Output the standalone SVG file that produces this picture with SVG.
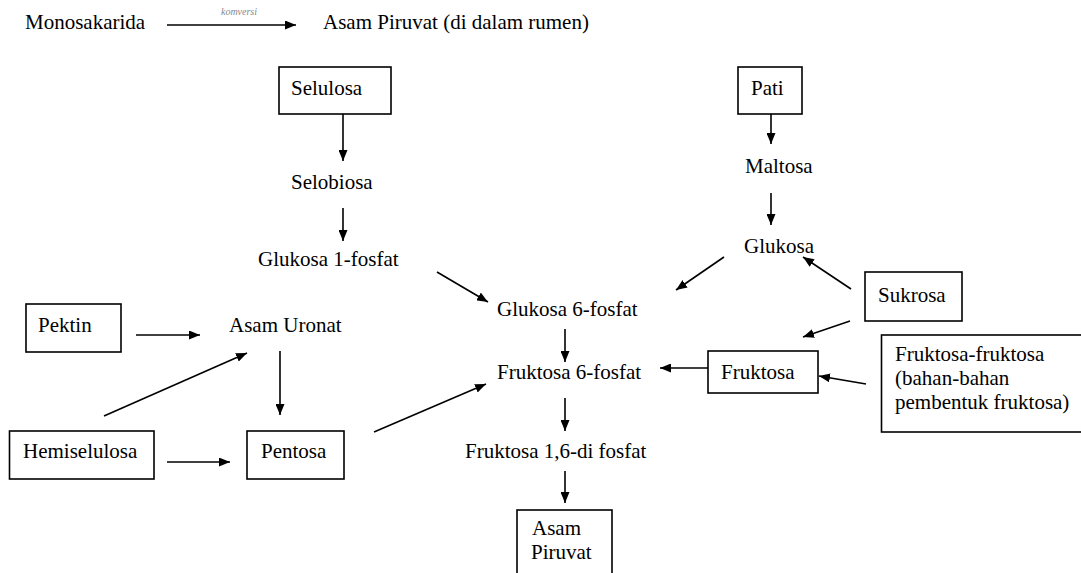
<svg xmlns="http://www.w3.org/2000/svg" width="1081" height="573" viewBox="0 0 1081 573" font-family="'Liberation Serif', 'DejaVu Serif', serif">
<style>
text{font-family:'Liberation Serif','Times New Roman',Times,'DejaVu Serif',serif;font-size:21px;fill:#000}
.box{fill:#fff;stroke:#000;stroke-width:1.6}
.c{stroke:#000;stroke-width:1.6;fill:none;marker-end:url(#ah)}
.lbl{font-size:10px;font-style:italic;fill:#888}
</style>
<defs>
<marker id="ah" markerUnits="userSpaceOnUse" markerWidth="11" markerHeight="9" refX="11" refY="4.5" orient="auto">
<path d="M0,0 L11,4.5 L0,9 z" fill="#000"/>
</marker>
</defs>
<rect width="1081" height="573" fill="#fff"/>

<g id="legend">
<text x="25" y="29">Monosakarida</text>
<text class="lbl" x="239" y="15" text-anchor="middle">komversi</text>
<text x="323" y="29">Asam Piruvat (di dalam rumen)</text>
</g>

<g id="selulosa"><rect class="box" x="279" y="67" width="112" height="47"/><text x="291" y="95">Selulosa</text></g>
<g id="selobiosa"><text x="291" y="189">Selobiosa</text></g>
<g id="glukosa1f"><text x="258" y="266">Glukosa 1-fosfat</text></g>
<g id="pati"><rect class="box" x="738" y="67" width="64" height="47"/><text x="751" y="95">Pati</text></g>
<g id="maltosa"><text x="745" y="173">Maltosa</text></g>
<g id="glukosa"><text x="744" y="253">Glukosa</text></g>
<g id="sukrosa"><rect class="box" x="865" y="272" width="97" height="49"/><text x="878" y="302">Sukrosa</text></g>
<g id="glukosa6f"><text x="497" y="316">Glukosa 6-fosfat</text></g>
<g id="fruktosa6f"><text x="497" y="379">Fruktosa 6-fosfat</text></g>
<g id="fruktosa"><rect class="box" x="708" y="351" width="110" height="42"/><text x="721" y="379">Fruktosa</text></g>
<g id="fruktosafruktosa"><rect class="box" x="881.5" y="335" width="210" height="97"/>
<text x="895" y="361">Fruktosa-fruktosa</text>
<text x="895" y="385">(bahan-bahan</text>
<text x="895" y="409">pembentuk fruktosa)</text></g>
<g id="fruktosa16"><text x="465" y="458">Fruktosa 1,6-di fosfat</text></g>
<g id="asampiruvat"><rect class="box" x="517" y="510" width="95" height="70"/><text x="532" y="535">Asam</text><text x="531" y="559">Piruvat</text></g>
<g id="pektin"><rect class="box" x="26" y="304" width="95" height="48"/><text x="38" y="332">Pektin</text></g>
<g id="asamuronat"><text x="229" y="332">Asam Uronat</text></g>
<g id="hemiselulosa"><rect class="box" x="9.5" y="431" width="144.5" height="48"/><text x="23" y="458">Hemiselulosa</text></g>
<g id="pentosa"><rect class="box" x="247" y="431" width="97" height="48"/><text x="261" y="458">Pentosa</text></g>

<g id="connectors">
<line class="c" x1="167" y1="25" x2="296" y2="25"/>
<line class="c" x1="343" y1="114" x2="343" y2="161"/>
<line class="c" x1="343" y1="208" x2="343" y2="241"/>
<line class="c" x1="437" y1="272" x2="488" y2="302"/>
<line class="c" x1="771" y1="114" x2="771" y2="144"/>
<line class="c" x1="771" y1="193" x2="771" y2="225"/>
<line class="c" x1="724" y1="257" x2="676" y2="290"/>
<line class="c" x1="851" y1="289" x2="803" y2="257"/>
<line class="c" x1="850" y1="321" x2="803" y2="337"/>
<line class="c" x1="565" y1="329" x2="565" y2="362"/>
<line class="c" x1="708" y1="368" x2="660" y2="368"/>
<line class="c" x1="866" y1="384" x2="819" y2="376"/>
<line class="c" x1="565" y1="398" x2="565" y2="431"/>
<line class="c" x1="565" y1="471" x2="565" y2="503"/>
<line class="c" x1="136" y1="335" x2="200" y2="335"/>
<line class="c" x1="104" y1="416" x2="247" y2="353"/>
<line class="c" x1="280" y1="351" x2="280" y2="415"/>
<line class="c" x1="167" y1="462" x2="230" y2="462"/>
<line class="c" x1="374" y1="432" x2="486" y2="384"/>
</g>
</svg>
